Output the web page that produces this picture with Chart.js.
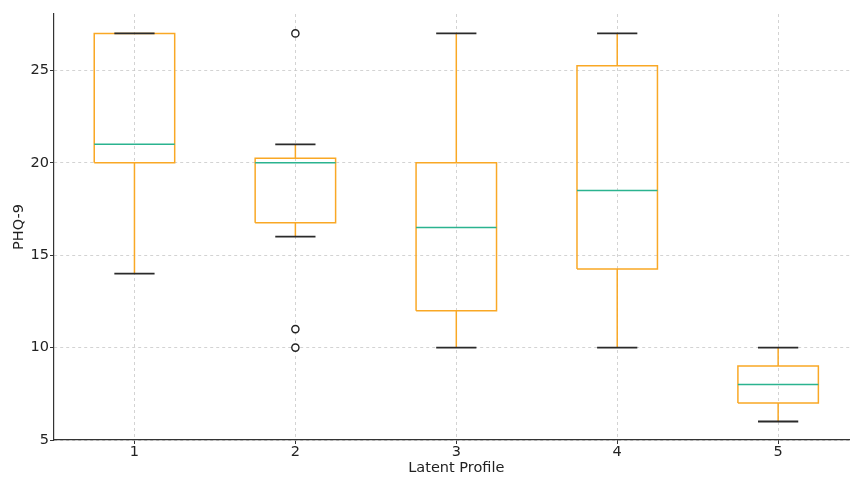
<!DOCTYPE html>
<html>
<head>
<meta charset="utf-8">
<script src="https://cdn.jsdelivr.net/npm/chart.js@4"></script>
<style>
  html, body { margin: 0; padding: 0; background: #fff; overflow: hidden; }
  #wrap { width: 864px; height: 477px; }
</style>
</head>
<body>
<div id="wrap"><canvas id="boxChart" width="864" height="477"></canvas></div>
<script>
// Box plot values (PHQ-9 by latent profile)
const categories = ['1', '2', '3', '4', '5'];
const q1 = [20, 16.75, 12, 14.25, 7];
const medians = [21, 20, 16.5, 18.5, 8];
const q3 = [27, 20.25, 20, 25.25, 9];
const whiskerLow = [14, 16, 10, 10, 6];
const whiskerHigh = [27, 21, 27, 27, 10];
const outliers = [[], [27, 11, 10], [], [], []];
const yTicks = [5, 10, 15, 20, 25];

const boxHalf = 0.25;
const capHalf = 0.125;

// a line segment followed by a gap so the next one is not joined
function seg(x1, y1, x2, y2) {
    return [{x: x1, y: y1}, {x: x2, y: y2}, {x: x2, y: null}];
}

let boxPts = [], medianPts = [], whiskerPts = [], capPts = [], outlierPts = [];
categories.forEach((c, i) => {
    const x = i + 1;
    boxPts.push({x: x - boxHalf, y: q1[i]}, {x: x + boxHalf, y: q1[i]},
                {x: x + boxHalf, y: q3[i]}, {x: x - boxHalf, y: q3[i]},
                {x: x - boxHalf, y: q1[i]}, {x: x, y: null});
    medianPts.push(...seg(x - boxHalf, medians[i], x + boxHalf, medians[i]));
    whiskerPts.push(...seg(x, q1[i], x, whiskerLow[i]));
    whiskerPts.push(...seg(x, q3[i], x, whiskerHigh[i]));
    capPts.push(...seg(x - capHalf, whiskerLow[i], x + capHalf, whiskerLow[i]));
    capPts.push(...seg(x - capHalf, whiskerHigh[i], x + capHalf, whiskerHigh[i]));
    outliers[i].forEach(v => outlierPts.push({x: x, y: v}));
});

const orange = '#f9a825';
const lineSet = (label, data, color, width) => ({
    label: label, data: data, showLine: true, spanGaps: false,
    borderColor: color, borderWidth: width, pointRadius: 0, fill: false
});

const font = {family: 'DejaVu Sans', size: 14.5};
const gridStyle = {color: '#c8c8c8', lineWidth: 0.8, tickColor: '#333', tickLength: 4, tickWidth: 1};

new Chart(document.getElementById('boxChart'), {
    type: 'scatter',
    data: {
        datasets: [
            lineSet('caps', capPts, '#2a2a2a', 1.8),
            {
                label: 'outliers', data: outlierPts, showLine: false,
                pointStyle: 'circle', pointRadius: 3.6,
                pointBackgroundColor: '#fff', pointBorderColor: '#222', pointBorderWidth: 1.4
            },
            lineSet('median', medianPts, '#2bb38f', 1.6),
            lineSet('box', boxPts, orange, 1.5),
            lineSet('whiskers', whiskerPts, orange, 1.5)
        ]
    },
    options: {
        responsive: false,
        animation: false,
        layout: {padding: {top: 14, right: 0, left: 0, bottom: 0}},
        plugins: {legend: {display: false}, tooltip: {enabled: false}},
        scales: {
            x: {
                type: 'linear', min: 0.5, max: 5.5,
                afterBuildTicks: s => { s.ticks = categories.map((c, i) => ({value: i + 1})); },
                afterFit: s => { s.height = 37; },
                ticks: {
                    callback: (v) => categories[v - 1],
                    color: '#222', font: font, padding: 0, maxRotation: 0
                },
                grid: gridStyle,
                border: {display: true, color: '#333', width: 1.2, dash: [3, 3]},
                title: {display: true, text: 'Latent Profile', color: '#222', font: font, padding: 0}
            },
            y: {
                type: 'linear', min: 5, max: 28.05,
                afterBuildTicks: s => { s.ticks = yTicks.map(v => ({value: v})); },
                afterFit: s => { s.width = 54; },
                ticks: {color: '#222', font: font, padding: 1},
                grid: gridStyle,
                border: {display: true, color: '#333', width: 1.2, dash: [3, 3]},
                title: {display: true, text: 'PHQ-9', color: '#222', font: font, padding: {top: 11, bottom: 0}}
            }
        }
    }
});
</script>
</body>
</html>
